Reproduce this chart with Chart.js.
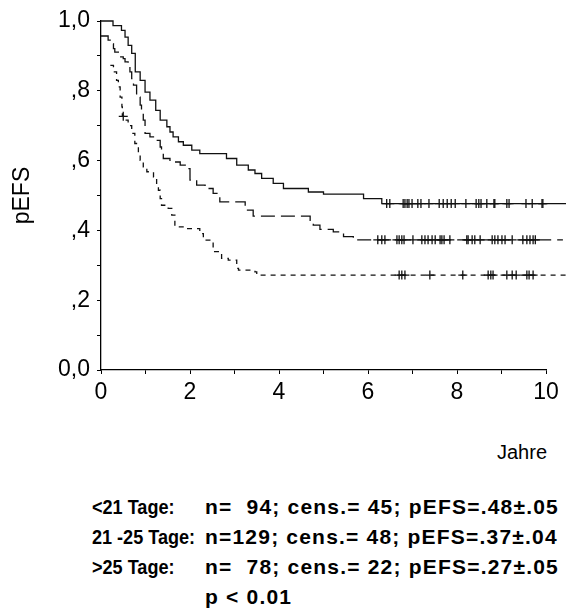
<!DOCTYPE html>
<html>
<head>
<meta charset="utf-8">
<script src="https://cdn.jsdelivr.net/npm/chart.js@4.4.1/dist/chart.umd.min.js"></script>
<style>
    body { margin: 0; background: #fff; }
    #wrap { position: relative; width: 577px; height: 615px; font-family: "Liberation Sans", Arial, sans-serif; color: #000; }
    #efsChart { position: absolute; left: 0; top: 0; }
    .axis-title { position: absolute; font-size: 20px; }
    .stats { position: absolute; left: 0; top: 492px; font-weight: bold; font-size: 21px; line-height: 30px; }
    .stats div { position: relative; height: 30px; white-space: pre; }
    .stats span { position: absolute; }
    .stats .grp { left: 92px; transform: scaleX(0.86); transform-origin: left center; }
    .stats .val { left: 205px; letter-spacing: 1.2px; }
</style>
</head>
<body>
<div id="wrap">
    <canvas id="efsChart" width="577" height="420"></canvas>
    <div class="axis-title" style="left:497px; top:441px;">Jahre</div>
    <div class="stats">
        <div><span class="grp">&lt;21 Tage:</span><span class="val">n=  94; cens.= 45; pEFS=.48±.05</span></div>
        <div><span class="grp">21 -25 Tage:</span><span class="val">n=129; cens.= 48; pEFS=.37±.04</span></div>
        <div><span class="grp">&gt;25 Tage:</span><span class="val">n=  78; cens.= 22; pEFS=.27±.05</span></div>
        <div><span class="val">p &lt; 0.01</span></div>
    </div>
</div>
<script>
// <21 Tage: event times (years) and pEFS after each step
const shortTimes = [0, 0.27, 0.46, 0.54, 0.61, 0.69, 0.77, 0.88, 0.99, 1.10, 1.23, 1.33, 1.48, 1.55, 1.62, 1.74, 1.85, 2.04, 2.22, 2.82, 3.05, 3.31, 3.46, 3.61, 3.87, 4.10, 4.66, 5.00, 5.90, 6.31, 10.45];
const shortEfs   = [1.000, 0.987, 0.973, 0.954, 0.930, 0.907, 0.854, 0.830, 0.796, 0.773, 0.744, 0.716, 0.697, 0.682, 0.668, 0.654, 0.644, 0.630, 0.620, 0.606, 0.587, 0.573, 0.563, 0.549, 0.535, 0.520, 0.510, 0.504, 0.491, 0.477, 0.477];
const shortCensored = [6.42, 6.49, 6.79, 6.83, 6.88, 6.92, 6.99, 7.12, 7.19, 7.37, 7.60, 7.69, 7.78, 7.87, 7.96, 8.20, 8.43, 8.49, 8.54, 8.67, 8.83, 8.85, 9.12, 9.17, 9.55, 9.69, 9.91, 9.93];

// 21-25 Tage
const midTimes = [0, 0.16, 0.24, 0.28, 0.31, 0.39, 0.50, 0.54, 0.61, 0.65, 0.69, 0.73, 0.80, 0.88, 0.91, 0.95, 0.99, 1.10, 1.25, 1.33, 1.36, 1.40, 1.55, 1.78, 1.93, 2.00, 2.15, 2.34, 2.52, 2.67, 3.24, 3.27, 3.42, 4.70, 4.77, 4.92, 5.22, 5.45, 5.67, 10.38];
const midEfs   = [0.957, 0.945, 0.935, 0.921, 0.911, 0.897, 0.892, 0.883, 0.868, 0.854, 0.835, 0.816, 0.782, 0.759, 0.744, 0.716, 0.678, 0.668, 0.658, 0.639, 0.620, 0.606, 0.596, 0.587, 0.577, 0.544, 0.530, 0.520, 0.506, 0.482, 0.468, 0.458, 0.441, 0.429, 0.415, 0.403, 0.396, 0.382, 0.373, 0.373];
const midCensored = [6.22, 6.31, 6.38, 6.65, 6.70, 6.76, 6.81, 7.01, 7.21, 7.28, 7.35, 7.44, 7.51, 7.62, 7.66, 7.71, 7.84, 8.22, 8.25, 8.34, 8.40, 8.52, 8.79, 8.85, 8.92, 9.01, 9.08, 9.24, 9.48, 9.57, 9.64, 9.71, 9.76];

// >25 Tage
const longTimes = [0.21, 0.28, 0.35, 0.39, 0.43, 0.47, 0.48, 0.54, 0.61, 0.69, 0.76, 0.84, 0.88, 0.95, 1.03, 1.18, 1.25, 1.29, 1.33, 1.36, 1.51, 1.59, 1.66, 1.93, 2.22, 2.30, 2.52, 2.71, 2.86, 3.05, 3.09, 3.46, 3.50, 10.45];
const longEfs   = [0.873, 0.854, 0.830, 0.811, 0.782, 0.754, 0.727, 0.716, 0.700, 0.678, 0.649, 0.620, 0.601, 0.582, 0.568, 0.553, 0.525, 0.515, 0.491, 0.472, 0.463, 0.444, 0.410, 0.405, 0.391, 0.372, 0.339, 0.320, 0.315, 0.291, 0.286, 0.281, 0.272, 0.272];
const longCensored = [0.50, 6.70, 6.76, 6.83, 7.39, 8.13, 8.70, 8.76, 8.81, 9.12, 9.24, 9.33, 9.57, 9.62, 9.71];

// axis labels
const yTickLabels = { 0: '0,0', 2: ',2', 4: ',4', 6: ',6', 8: ',8', 10: '1,0' };
const xTickLabels = { 0: '0', 2: '2', 4: '4', 6: '6', 8: '8', 10: '10' };

const lineColor = '#111';

//Function for turning times + values into {x, y} points
function toPoints(times, values) {
    return times.map((t, i) => ({ x: t, y: values[i] }));
}

//Function for the survival value at a censoring time (last step at or before it)
function efsAt(times, values, t) {
    let v = values[0];
    for (let i = 0; i < times.length; i++) {
        if (times[i] <= t) v = values[i];
    }
    return v;
}

function censorPoints(cens, times, values) {
    return cens.map(t => ({ x: t, y: efsAt(times, values, t) }));
}

function curveDataset(times, values, dash) {
    return {
        data: toPoints(times, values),
        stepped: 'before',
        borderColor: lineColor,
        borderWidth: 1.3,
        borderDash: dash,
        pointRadius: 0,
        fill: false,
        clip: false
    };
}

function censorDataset(cens, times, values) {
    return {
        data: censorPoints(cens, times, values),
        showLine: false,
        pointStyle: 'cross',
        pointRadius: 4.5,
        pointBorderWidth: 1.3,
        borderColor: lineColor,
        clip: false
    };
}

const tickFont = { family: '"Liberation Sans", Arial, sans-serif', size: 23 };

new Chart(document.getElementById('efsChart'), {
    type: 'line',
    data: {
        datasets: [
            curveDataset(shortTimes, shortEfs, []),
            curveDataset(midTimes, midEfs, [14, 6]),
            curveDataset(longTimes, longEfs, [5, 5]),
            censorDataset(shortCensored, shortTimes, shortEfs),
            censorDataset(midCensored, midTimes, midEfs),
            censorDataset(longCensored, longTimes, longEfs)
        ]
    },
    options: {
        responsive: false,
        animation: false,
        devicePixelRatio: 1,
        events: [],
        layout: { padding: { top: 21, right: 31, left: 0, bottom: 0 } },
        plugins: {
            legend: { display: false },
            tooltip: { enabled: false }
        },
        scales: {
            x: {
                type: 'linear',
                min: 0,
                max: 10,
                afterFit: (scale) => { scale.height = 50; },
                ticks: {
                    stepSize: 1,
                    autoSkip: false,
                    maxRotation: 0,
                    padding: 5,
                    color: '#000',
                    font: tickFont,
                    callback: (v) => xTickLabels[Math.round(v)] ?? ''
                },
                grid: { drawOnChartArea: false, tickLength: 4, tickColor: '#000', tickWidth: 1 },
                border: { color: '#000', width: 1.3 }
            },
            y: {
                min: 0,
                max: 1,
                afterFit: (scale) => { scale.width = 101; },
                ticks: {
                    stepSize: 0.1,
                    autoSkip: false,
                    padding: 7,
                    color: '#000',
                    font: tickFont,
                    callback: (v) => yTickLabels[Math.round(v * 10)] ?? ''
                },
                title: {
                    display: true,
                    text: 'pEFS',
                    color: '#000',
                    font: { family: '"Liberation Sans", Arial, sans-serif', size: 23 },
                    padding: { top: 9, bottom: 0 }
                },
                grid: { drawOnChartArea: false, tickLength: 4, tickColor: '#000', tickWidth: 1 },
                border: { color: '#000', width: 1.3 }
            }
        }
    }
});
</script>
</body>
</html>
